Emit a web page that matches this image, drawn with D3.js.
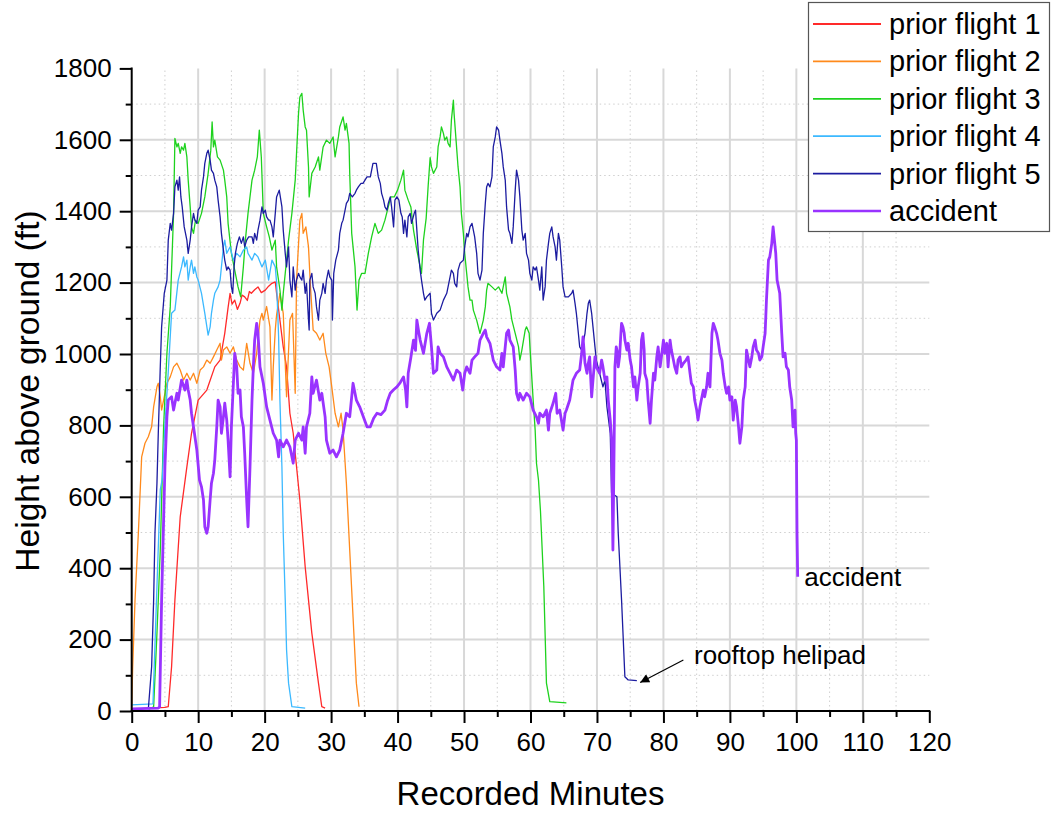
<!DOCTYPE html>
<html>
<head>
<meta charset="utf-8">
<script src="https://cdnjs.cloudflare.com/ajax/libs/d3/7.8.5/d3.min.js"></script>
<style>
  body { margin: 0; background: #fff; }
  svg { display: block; }
</style>
</head>
<body>
<div id="chart"></div>
<script>
var width = 1054;
var height = 815;

// [minute, feet] pairs
var flight1 = [[0,5],[5.0,10],[5.5,12],[6.0,124],[6.5,311],[7.3,544],[8.3,684],[9.0,778],[10.0,871],[11.3,899],[12.5,964],[13.3,983],[14.0,1058],[14.5,1130],[14.8,1170],[15.1,1140],[15.5,1151],[15.9,1125],[16.3,1142],[16.6,1165],[17.0,1160],[17.4,1150],[17.7,1175],[18.0,1170],[18.5,1180],[19.0,1188],[19.5,1172],[20.1,1179],[20.6,1190],[21.1,1198],[21.6,1202],[21.8,1170],[22.3,1095],[22.8,1020],[23.3,964],[23.8,834],[24.3,778],[25.3,591],[26.1,404],[27.1,218],[28.1,78],[28.6,12],[29.1,8]];

var flight2 = [[0,12],[0.15,124],[0.5,311],[1.0,498],[1.5,712],[2.0,750],[2.5,768],[3.0,796],[3.3,852],[3.8,908],[4.0,918],[4.3,880],[4.5,843],[4.8,871],[5.3,918],[5.8,936],[6.3,964],[6.8,974],[7.3,955],[7.8,927],[8.3,946],[8.8,927],[9.3,946],[9.8,918],[10.3,955],[10.8,964],[11.3,983],[11.8,974],[12.3,992],[12.8,1011],[13.3,1030],[13.5,983],[13.8,1011],[14.3,1020],[14.8,1002],[15.3,1020],[15.8,983],[16.3,964],[16.8,955],[17.3,1030],[17.8,974],[18.3,946],[18.8,1002],[19.3,1095],[19.6,1114],[19.8,1095],[20.3,1133],[20.8,1076],[21.1,871],[21.3,964],[21.6,1067],[21.8,1110],[22.3,1170],[22.8,1114],[23.3,880],[23.8,1095],[24.2,1114],[24.6,890],[24.8,1207],[25.3,1375],[25.6,1394],[25.8,1338],[26.2,1356],[26.6,1300],[26.9,1188],[27.3,1067],[27.8,1058],[28.3,1039],[28.8,1058],[29.2,1002],[29.7,964],[30.1,908],[30.6,834],[31.1,796],[31.5,834],[31.8,787],[32.3,638],[32.8,451],[33.3,264],[33.8,78],[34.2,12]];

var flight3 = [[2.6,5],[3.3,12],[3.8,218],[4.3,451],[4.8,796],[5.3,1002],[5.8,1132],[6.3,1394],[6.5,1604],[6.8,1580],[7.0,1590],[7.3,1562],[7.5,1580],[7.8,1571],[8.0,1590],[8.3,1552],[8.5,1487],[8.8,1412],[9.0,1356],[9.3,1338],[9.6,1375],[10.0,1366],[10.5,1394],[11.0,1440],[11.5,1506],[11.9,1571],[12.1,1650],[12.3,1580],[12.5,1599],[12.9,1552],[13.3,1543],[13.8,1515],[14.0,1487],[14.3,1440],[14.5,1366],[15.0,1282],[15.5,1235],[16.0,1188],[16.4,1160],[16.8,1244],[17.1,1319],[17.5,1394],[18.1,1487],[18.5,1515],[18.9,1552],[19.2,1627],[19.5,1552],[19.8,1394],[20.3,1356],[20.7,1328],[21.1,1291],[21.6,1319],[21.8,1244],[22.3,1180],[22.6,1123],[22.8,1170],[23.6,1319],[24.1,1394],[24.6,1487],[24.8,1562],[25.1,1674],[25.3,1720],[25.6,1730],[25.8,1683],[26.1,1636],[26.3,1627],[26.6,1524],[26.7,1440],[27.1,1506],[27.6,1524],[28.1,1552],[28.3,1515],[28.8,1580],[29.3,1599],[29.8,1590],[30.3,1608],[30.6,1552],[31.1,1608],[31.3,1636],[31.8,1664],[32.1,1627],[32.3,1646],[32.7,1590],[32.8,1506],[33.1,1338],[33.6,1244],[33.9,1123],[34.2,1207],[34.6,1226],[35.1,1226],[35.6,1282],[36.1,1328],[36.6,1366],[37.1,1338],[37.6,1347],[38.1,1375],[38.6,1412],[39.0,1440],[39.5,1440],[40.0,1459],[40.5,1487],[40.9,1515],[41.1,1459],[41.6,1431],[42.0,1412],[42.4,1347],[42.9,1291],[43.4,1244],[43.6,1226],[43.9,1320],[44.3,1380],[44.6,1470],[44.9,1550],[45.1,1524],[45.4,1506],[45.9,1524],[46.1,1580],[46.4,1608],[46.6,1636],[46.9,1618],[47.1,1599],[47.4,1608],[47.6,1590],[47.9,1580],[48.1,1655],[48.4,1711],[48.5,1674],[48.8,1599],[49.1,1524],[49.4,1468],[49.6,1394],[49.9,1338],[50.1,1282],[50.4,1226],[50.6,1188],[50.9,1151],[51.2,1151],[51.4,1123],[51.9,1095],[52.4,1058],[52.9,1095],[53.2,1132],[53.4,1179],[53.6,1198],[54.2,1188],[54.7,1179],[55.2,1188],[55.7,1170],[56.2,1216],[56.4,1170],[56.9,1132],[57.2,1095],[57.7,1058],[58.2,1020],[58.4,983],[58.7,1011],[59.2,1067],[59.4,1076],[59.8,1058],[60.1,964],[60.4,871],[60.7,787],[60.9,694],[61.2,647],[61.5,560],[62.0,350],[62.4,78],[62.9,26],[65.4,23]];

var flight4 = [[0,17],[3.2,20],[3.8,350],[4.3,620],[4.6,650],[5.0,800],[5.5,950],[6.0,1114],[6.5,1123],[7.0,1207],[7.5,1244],[7.8,1272],[8.0,1244],[8.3,1263],[8.5,1207],[8.8,1244],[9.0,1263],[9.3,1226],[9.5,1244],[9.8,1216],[10.0,1207],[10.5,1170],[11.0,1114],[11.5,1053],[11.8,1076],[12.0,1114],[12.3,1151],[12.5,1170],[13.0,1188],[13.3,1207],[13.5,1244],[13.8,1300],[14.0,1319],[14.3,1282],[14.8,1300],[15.3,1263],[15.8,1282],[16.3,1272],[16.8,1291],[17.3,1300],[17.5,1282],[18.1,1263],[18.5,1282],[19.0,1272],[19.6,1244],[20.1,1263],[20.6,1207],[21.1,1263],[21.6,1244],[21.8,1200],[22.1,1050],[22.3,871],[22.6,684],[22.8,498],[23.1,311],[23.3,171],[23.6,78],[24.1,12],[26.1,8]];

var flight5 = [[2.5,5],[3.0,124],[3.3,311],[3.5,498],[3.8,638],[4.0,778],[4.3,964],[4.5,1076],[4.9,1170],[5.3,1207],[5.5,1319],[5.8,1366],[6.0,1347],[6.3,1394],[6.5,1468],[6.8,1487],[7.0,1459],[7.2,1496],[7.4,1440],[7.6,1412],[7.9,1356],[8.3,1319],[8.5,1282],[8.8,1319],[9.0,1356],[9.3,1394],[9.5,1375],[9.8,1366],[10.0,1403],[10.3,1412],[10.5,1459],[10.8,1496],[11.0,1534],[11.3,1562],[11.5,1571],[11.8,1543],[12.0,1515],[12.3,1506],[12.5,1487],[12.8,1468],[13.0,1431],[13.3,1384],[13.5,1338],[13.8,1291],[14.0,1263],[14.3,1235],[14.5,1244],[14.8,1235],[15.0,1188],[15.2,1170],[15.4,1244],[15.6,1282],[15.9,1310],[16.2,1328],[16.5,1310],[16.8,1328],[17.0,1300],[17.3,1319],[17.6,1328],[18.1,1328],[18.3,1310],[18.5,1338],[18.8,1319],[19.0,1347],[19.3,1375],[19.6,1412],[19.8,1394],[20.1,1403],[20.3,1384],[20.6,1375],[20.8,1375],[21.1,1356],[21.3,1328],[21.6,1394],[21.8,1440],[22.2,1459],[22.6,1412],[22.8,1347],[23.1,1282],[23.3,1244],[23.6,1300],[23.8,1207],[24.1,1160],[24.3,1244],[24.6,1179],[24.8,1207],[25.1,1226],[25.3,1216],[25.6,1207],[25.8,1235],[26.1,1170],[26.3,1198],[26.6,1095],[26.7,1067],[26.8,1207],[27.1,1226],[27.3,1188],[27.6,1170],[27.8,1132],[28.1,1095],[28.3,1151],[28.6,1170],[28.8,1198],[29.1,1170],[29.3,1207],[29.6,1235],[29.8,1216],[30.1,1207],[30.2,1095],[30.4,1226],[30.7,1263],[31.1,1291],[31.3,1338],[31.6,1366],[31.8,1375],[32.1,1403],[32.3,1422],[32.6,1431],[32.8,1450],[33.2,1440],[33.6,1450],[33.8,1459],[34.1,1468],[34.5,1478],[34.8,1478],[35.4,1496],[35.9,1496],[36.1,1515],[36.3,1534],[36.8,1534],[37.1,1496],[37.4,1478],[37.6,1450],[37.9,1431],[38.1,1412],[38.4,1403],[38.6,1422],[38.9,1440],[39.1,1412],[39.4,1356],[39.6,1431],[39.9,1440],[40.2,1431],[40.5,1394],[40.7,1384],[40.9,1338],[41.1,1375],[41.4,1328],[41.6,1384],[41.9,1394],[42.1,1366],[42.5,1394],[42.7,1403],[42.9,1347],[43.1,1291],[43.4,1235],[43.6,1207],[43.9,1170],[44.1,1151],[44.4,1160],[44.9,1170],[45.1,1114],[45.4,1095],[45.9,1114],[46.4,1123],[46.9,1151],[47.4,1170],[47.9,1216],[48.1,1235],[48.4,1226],[48.6,1198],[48.9,1188],[49.1,1235],[49.4,1254],[49.9,1263],[50.1,1300],[50.4,1338],[50.6,1328],[50.9,1356],[51.2,1366],[51.4,1347],[51.6,1328],[51.9,1282],[52.1,1226],[52.4,1207],[52.7,1235],[52.9,1338],[53.2,1422],[53.4,1468],[53.6,1478],[53.9,1468],[54.2,1496],[54.4,1580],[54.7,1608],[54.9,1636],[55.2,1627],[55.4,1599],[55.7,1562],[55.9,1524],[56.2,1487],[56.4,1412],[56.7,1347],[56.9,1338],[57.2,1310],[57.4,1356],[57.7,1459],[57.9,1515],[58.2,1487],[58.4,1440],[58.7,1347],[58.9,1319],[59.2,1338],[59.4,1282],[59.7,1263],[59.9,1226],[60.2,1207],[60.4,1244],[60.7,1235],[60.9,1244],[61.2,1207],[61.4,1179],[61.7,1244],[61.9,1151],[62.2,1188],[62.4,1263],[62.7,1310],[62.9,1338],[63.2,1356],[63.4,1328],[63.7,1300],[63.9,1263],[64.2,1338],[64.4,1319],[64.7,1244],[64.9,1188],[65.2,1160],[65.7,1160],[66.2,1170],[66.4,1179],[66.7,1142],[66.9,1114],[67.2,1058],[67.4,1020],[67.7,1011],[67.9,1030],[68.2,1058],[68.5,1114],[68.7,1142],[68.9,1151],[69.2,1114],[69.4,1076],[69.7,1020],[69.9,983],[70.4,946],[70.9,908],[71.2,927],[71.5,852],[72.0,778],[72.2,610],[73.0,600],[73.2,498],[73.7,311],[74.2,96],[74.7,87],[76.0,85]];

var accident = [[0,6],[4.0,8],[4.2,12],[4.5,311],[5.0,684],[5.3,824],[5.5,871],[6.0,880],[6.3,843],[6.5,862],[6.8,890],[7.0,871],[7.5,927],[8.0,899],[8.3,927],[8.5,899],[8.8,871],[9.0,834],[9.3,796],[9.8,731],[10.2,647],[10.5,628],[10.8,591],[11.0,516],[11.3,498],[11.5,516],[11.8,591],[12.0,638],[12.3,666],[12.5,703],[12.8,796],[13.0,871],[13.3,852],[13.5,778],[13.8,824],[14.0,862],[14.3,815],[14.5,759],[14.8,656],[15.0,796],[15.3,918],[15.5,1002],[15.8,964],[16.0,890],[16.3,899],[16.5,824],[16.8,796],[17.0,722],[17.3,591],[17.5,516],[17.8,684],[18.1,871],[18.3,964],[18.5,1039],[18.8,1086],[19.0,1058],[19.3,964],[19.8,918],[20.3,852],[20.8,815],[21.3,778],[21.8,759],[22.1,712],[22.3,759],[22.8,740],[23.3,759],[23.8,740],[24.3,694],[24.6,759],[25.1,778],[25.6,759],[25.8,796],[26.1,722],[26.3,796],[26.8,834],[27.1,936],[27.3,890],[27.8,927],[28.3,871],[28.6,890],[29.1,824],[29.3,759],[29.8,722],[30.3,731],[30.8,712],[31.3,731],[31.8,778],[32.3,834],[32.8,824],[33.3,918],[33.8,871],[34.3,852],[35.4,796],[35.9,796],[36.4,820],[36.9,834],[37.5,830],[38.1,843],[38.5,870],[38.9,890],[39.4,900],[39.9,908],[40.4,920],[40.9,936],[41.2,900],[41.4,852],[41.6,946],[42.0,990],[42.4,1039],[42.7,1010],[42.9,1095],[43.2,1060],[43.4,1039],[43.9,1002],[44.4,1058],[44.8,1086],[45.1,1020],[45.4,946],[45.9,955],[46.1,1020],[46.4,1002],[46.9,992],[47.4,964],[47.9,946],[48.4,927],[48.9,955],[49.4,946],[49.8,899],[50.1,946],[50.4,964],[50.9,946],[51.2,983],[51.6,992],[52.1,1002],[52.4,1039],[52.9,1058],[53.2,1067],[53.4,1048],[53.9,1030],[54.4,983],[54.9,964],[55.4,955],[55.7,1002],[55.9,964],[56.4,1058],[56.7,1067],[56.9,1039],[57.4,1020],[57.7,955],[57.9,890],[58.2,871],[58.4,890],[58.9,871],[59.4,890],[59.9,880],[60.4,843],[60.9,824],[61.2,806],[61.4,834],[61.9,824],[62.4,843],[62.7,787],[62.9,834],[63.4,862],[63.8,890],[64.0,834],[64.4,843],[64.9,787],[65.2,834],[65.4,843],[65.9,871],[66.4,927],[66.9,946],[67.4,955],[67.7,1002],[67.9,1048],[68.2,974],[68.5,946],[68.7,974],[68.9,992],[69.2,880],[69.4,927],[69.7,992],[69.9,964],[70.4,946],[70.7,983],[70.9,964],[71.2,927],[71.5,936],[71.7,871],[72.0,815],[72.2,759],[72.4,451],[72.5,610],[72.6,778],[72.7,964],[72.9,1020],[73.1,1002],[73.2,964],[73.4,992],[73.6,1058],[73.7,1086],[73.9,1076],[74.1,1058],[74.2,1039],[74.5,1011],[74.7,1030],[75.0,983],[75.2,964],[75.5,908],[75.7,936],[76.0,871],[76.2,908],[76.5,946],[76.7,1039],[76.9,1058],[77.1,1011],[77.2,946],[77.5,927],[77.7,871],[78.0,806],[78.2,871],[78.5,946],[78.7,927],[79.0,992],[79.2,1020],[79.5,964],[79.7,992],[80.0,1039],[80.2,1002],[80.5,1030],[80.7,964],[81.0,1039],[81.2,1011],[81.5,983],[81.7,964],[82.0,946],[82.2,983],[82.5,992],[82.7,964],[83.0,974],[83.4,983],[83.7,992],[84.0,946],[84.2,918],[84.5,908],[84.7,871],[85.0,843],[85.2,815],[85.5,852],[85.7,871],[86.0,899],[86.2,880],[86.5,908],[86.7,946],[87.0,908],[87.3,1058],[87.5,1086],[87.7,1076],[88.0,1058],[88.2,1039],[88.5,1002],[88.8,983],[89.0,946],[89.3,908],[89.5,890],[89.8,908],[90.0,871],[90.3,880],[90.5,815],[90.8,871],[91.0,852],[91.3,796],[91.5,750],[91.8,796],[92.0,871],[92.3,908],[92.5,1011],[92.8,983],[93.0,964],[93.3,992],[93.5,1020],[93.8,1039],[94.0,1011],[94.3,1002],[94.5,983],[94.8,992],[95.0,1020],[95.3,1058],[95.5,1151],[95.8,1263],[96.0,1272],[96.3,1310],[96.5,1356],[96.7,1319],[96.9,1282],[97.1,1207],[97.5,1170],[97.8,1058],[98.0,992],[98.3,1002],[98.5,964],[98.8,955],[99.0,908],[99.3,871],[99.5,796],[99.8,843],[99.9,778],[100.0,759],[100.1,498],[100.2,376]];

var seriesNames = ["prior flight 1", "prior flight 2", "prior flight 3", "prior flight 4", "prior flight 5", "accident"];
var seriesData = [flight1, flight2, flight3, flight4, flight5, accident];
var seriesColors = ["#ff2a2a", "#ff8a1c", "#1ed21e", "#3cb9ff", "#1c1ca0", "#9933ff"];
var seriesWidths = [1.3, 1.3, 1.3, 1.3, 1.3, 2.8];

var xTicks = [0, 10, 20, 30, 40, 50, 60, 70, 80, 90, 100, 110, 120];
var yTicks = [0, 200, 400, 600, 800, 1000, 1200, 1400, 1600, 1800];

// annotation positions in data units
var helipadLabel = { text: "rooftop helipad", x: 84.6, y: 157 };
var helipadArrow = { x1: 83.0, y1: 143, x2: 76.5, y2: 80 };
var accidentLabel = { text: "accident", x: 101.2, y: 375 };

draw();

function draw() {
  var plotLeft = 131.7, plotRight = 929.3, plotTop = 68.4, plotBottom = 711;

  var svg = d3.select("#chart").append("svg")
    .attr("width", width)
    .attr("height", height)
    .attr("font-family", "Liberation Sans, Arial, sans-serif");

  var xScale = d3.scaleLinear().domain([0, 120]).range([plotLeft, plotRight]);
  var yScale = d3.scaleLinear().domain([0, 1800]).range([plotBottom, plotTop]);

  // grid
  var grid = svg.append("g");
  grid.selectAll("line.vminor")
    .data(d3.range(5, 120, 10))
    .enter().append("line")
    .attr("x1", function (d) { return xScale(d); })
    .attr("x2", function (d) { return xScale(d); })
    .attr("y1", plotBottom).attr("y2", plotTop)
    .attr("stroke", "#cfcfcf").attr("stroke-width", 1)
    .attr("stroke-dasharray", "1.5,3");
  grid.selectAll("line.hminor")
    .data(d3.range(100, 1800, 200))
    .enter().append("line")
    .attr("x1", plotLeft).attr("x2", plotRight)
    .attr("y1", function (d) { return yScale(d); })
    .attr("y2", function (d) { return yScale(d); })
    .attr("stroke", "#cfcfcf").attr("stroke-width", 1)
    .attr("stroke-dasharray", "1.5,3");
  grid.selectAll("line.vmajor")
    .data(d3.range(10, 120, 10))
    .enter().append("line")
    .attr("x1", function (d) { return xScale(d); })
    .attr("x2", function (d) { return xScale(d); })
    .attr("y1", plotBottom).attr("y2", plotTop)
    .attr("stroke", "#d8d8d8").attr("stroke-width", 2);
  grid.selectAll("line.hmajor")
    .data(d3.range(200, 1800, 200))
    .enter().append("line")
    .attr("x1", plotLeft).attr("x2", plotRight)
    .attr("y1", function (d) { return yScale(d); })
    .attr("y2", function (d) { return yScale(d); })
    .attr("stroke", "#d8d8d8").attr("stroke-width", 2);

  // series
  var line = d3.line()
    .x(function (d) { return xScale(d[0]); })
    .y(function (d) { return yScale(d[1]); });

  svg.append("g").selectAll("path")
    .data(seriesData)
    .enter().append("path")
    .attr("d", line)
    .attr("fill", "none")
    .attr("stroke", function (d, i) { return seriesColors[i]; })
    .attr("stroke-width", function (d, i) { return seriesWidths[i]; })
    .attr("stroke-linejoin", "round");

  // axes
  var xAxis = d3.axisBottom(xScale).tickValues(xTicks).tickSize(12).tickPadding(10)
    .tickFormat(d3.format("d"));
  var xMinor = d3.axisBottom(xScale).tickValues(d3.range(5, 120, 10)).tickSize(6).tickFormat("");
  var yAxis = d3.axisLeft(yScale).tickValues(yTicks).tickSize(12).tickPadding(8)
    .tickFormat(d3.format("d"));
  var yMinor = d3.axisLeft(yScale).tickValues(d3.range(100, 1800, 200)).tickSize(6).tickFormat("");

  function styleAxis(g) {
    g.select(".domain").remove();
    g.selectAll(".tick line").attr("stroke", "#000").attr("stroke-width", 2);
    g.selectAll(".tick text").attr("font-size", "26px").attr("fill", "#000")
      .attr("font-family", "Liberation Sans, Arial, sans-serif");
  }

  svg.append("g").attr("transform", "translate(0," + plotBottom + ")").call(xMinor).call(styleAxis);
  svg.append("g").attr("transform", "translate(0," + plotBottom + ")").call(xAxis).call(styleAxis);
  svg.append("g").attr("transform", "translate(" + plotLeft + ",0)").call(yMinor).call(styleAxis);
  svg.append("g").attr("transform", "translate(" + plotLeft + ",0)").call(yAxis).call(styleAxis);

  svg.append("line")
    .attr("x1", plotLeft - 1).attr("x2", plotRight + 1)
    .attr("y1", plotBottom).attr("y2", plotBottom)
    .attr("stroke", "#000").attr("stroke-width", 2);
  svg.append("line")
    .attr("x1", plotLeft).attr("x2", plotLeft)
    .attr("y1", plotBottom + 1).attr("y2", plotTop - 1)
    .attr("stroke", "#000").attr("stroke-width", 2);

  // axis titles
  svg.append("text")
    .attr("x", (plotLeft + plotRight) / 2)
    .attr("y", 805)
    .attr("text-anchor", "middle")
    .attr("font-size", "33px")
    .text("Recorded Minutes");

  svg.append("text")
    .attr("transform", "translate(39,391) rotate(-90)")
    .attr("text-anchor", "middle")
    .attr("font-size", "33.5px")
    .text("Height above ground (ft)");

  // annotations
  svg.append("defs").append("marker")
    .attr("id", "arrow")
    .attr("viewBox", "0 0 10 10")
    .attr("refX", 10).attr("refY", 5)
    .attr("markerWidth", 14).attr("markerHeight", 9)
    .attr("orient", "auto")
    .attr("markerUnits", "userSpaceOnUse")
    .append("path").attr("d", "M0,0 L10,5 L0,10 z").attr("fill", "#000");

  svg.append("line")
    .attr("x1", xScale(helipadArrow.x1)).attr("y1", yScale(helipadArrow.y1))
    .attr("x2", xScale(helipadArrow.x2)).attr("y2", yScale(helipadArrow.y2))
    .attr("stroke", "#000").attr("stroke-width", 1.2)
    .attr("marker-end", "url(#arrow)");

  svg.append("text")
    .attr("x", xScale(helipadLabel.x)).attr("y", yScale(helipadLabel.y))
    .attr("dominant-baseline", "central")
    .attr("font-size", "26px")
    .text(helipadLabel.text);

  svg.append("text")
    .attr("x", xScale(accidentLabel.x)).attr("y", yScale(accidentLabel.y))
    .attr("dominant-baseline", "central")
    .attr("font-size", "26px")
    .text(accidentLabel.text);

  // legend
  var legend = svg.append("g");
  legend.append("rect")
    .attr("x", 808.5).attr("y", 2.5)
    .attr("width", 241).attr("height", 229)
    .attr("fill", "#fff").attr("stroke", "#555").attr("stroke-width", 1.2);

  var rows = legend.selectAll("g.row")
    .data(seriesNames)
    .enter().append("g")
    .attr("transform", function (d, i) { return "translate(0," + (24 + i * 37.4) + ")"; });

  rows.append("line")
    .attr("x1", 813).attr("x2", 881).attr("y1", 0).attr("y2", 0)
    .attr("stroke", function (d, i) { return seriesColors[i]; })
    .attr("stroke-width", function (d, i) { return i === 5 ? 2.5 : 1.8; });

  rows.append("text")
    .attr("x", 889).attr("y", 0)
    .attr("dominant-baseline", "central")
    .attr("font-size", "29px")
    .text(function (d) { return d; });
}
</script>
</body>
</html>
